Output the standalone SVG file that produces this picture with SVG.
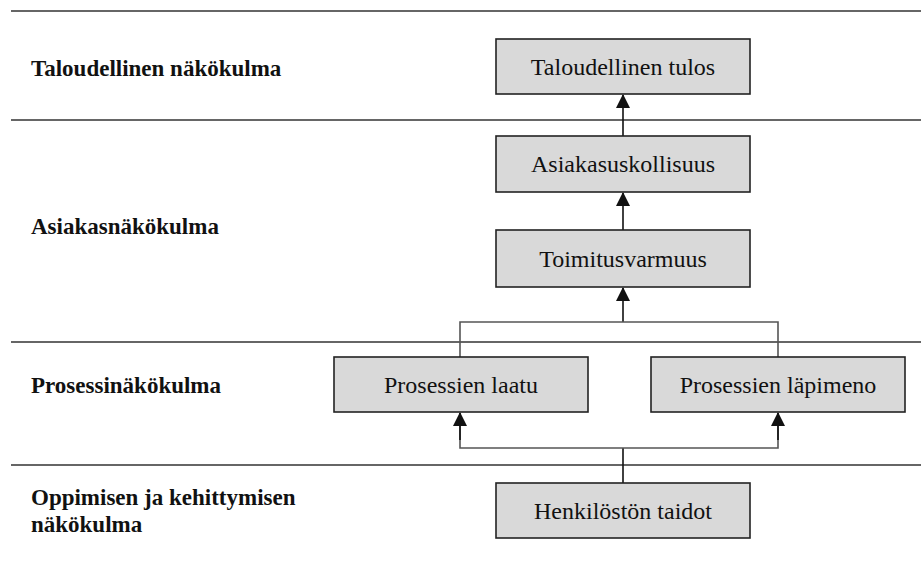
<svg xmlns="http://www.w3.org/2000/svg" width="921" height="568" viewBox="0 0 921 568">
  <style>
    .sep { stroke: #333; stroke-width: 1.7; fill: none; }
    .lbl { font-family: 'Liberation Serif', 'DejaVu Serif', serif; font-weight: 700; font-size: 23px; fill: #111; }
    .bt { font-family: 'Liberation Serif', 'DejaVu Serif', serif; font-size: 24px; fill: #111; text-anchor: middle; }
    .box { fill: #d9d9d9; stroke: #222; stroke-width: 1.6; }
    .con { stroke: #111; stroke-width: 1.6; fill: none; }
    .thin { stroke: #555; stroke-width: 1.6; fill: none; }
  </style>
  <defs>
    <marker id="ah" markerWidth="14" markerHeight="15" refX="13" refY="7" orient="auto" markerUnits="userSpaceOnUse">
      <path d="M0,0 L14,7 L0,14 Z" fill="#111"/>
    </marker>
  </defs>
  <rect width="921" height="568" fill="#fff"/>

  <g id="separators">
    <line class="sep" x1="11" y1="11" x2="921" y2="11"/>
    <line class="sep" x1="11" y1="120" x2="921" y2="120"/>
    <line class="sep" x1="11" y1="342" x2="921" y2="342"/>
    <line class="sep" x1="11" y1="465" x2="921" y2="465"/>
  </g>

  <g id="labels">
    <text class="lbl" x="31" y="76">Taloudellinen näkökulma</text>
    <text class="lbl" x="31" y="234">Asiakasnäkökulma</text>
    <text class="lbl" x="31" y="393">Prosessinäkökulma</text>
    <text class="lbl" x="31" y="505">Oppimisen ja kehittymisen</text>
    <text class="lbl" x="31" y="532">näkökulma</text>
  </g>

  <g id="connectors">
    <line class="con" x1="623" y1="136" x2="623" y2="95" marker-end="url(#ah)"/>
    <line class="con" x1="623" y1="230" x2="623" y2="193" marker-end="url(#ah)"/>
    <line class="con" x1="623" y1="322" x2="623" y2="288" marker-end="url(#ah)" stroke-width="2.2"/>
    <polyline class="thin" points="460,357 460,322 778,322 778,357"/>
    <line class="con" x1="623" y1="483" x2="623" y2="448" stroke-width="2.2"/>
    <polyline class="thin" points="460,413 460,448 778,448 778,413"/>
    <line class="con" x1="460" y1="440" x2="460" y2="413" marker-end="url(#ah)"/>
    <line class="con" x1="778" y1="440" x2="778" y2="413" marker-end="url(#ah)"/>
  </g>

  <g id="n-tulos">
    <rect class="box" x="496" y="39" width="254" height="55"/>
    <text class="bt" x="623" y="75">Taloudellinen tulos</text>
  </g>
  <g id="n-asiakasuskollisuus">
    <rect class="box" x="496" y="136" width="254" height="56"/>
    <text class="bt" x="623" y="172">Asiakasuskollisuus</text>
  </g>
  <g id="n-toimitusvarmuus">
    <rect class="box" x="496" y="230" width="254" height="57"/>
    <text class="bt" x="623" y="267">Toimitusvarmuus</text>
  </g>
  <g id="n-laatu">
    <rect class="box" x="334" y="357" width="254" height="55"/>
    <text class="bt" x="461" y="393">Prosessien laatu</text>
  </g>
  <g id="n-lapimeno">
    <rect class="box" x="651" y="357" width="254" height="55"/>
    <text class="bt" x="778" y="393">Prosessien läpimeno</text>
  </g>
  <g id="n-henkilosto">
    <rect class="box" x="496" y="483" width="254" height="55"/>
    <text class="bt" x="623" y="519">Henkilöstön taidot</text>
  </g>
</svg>
